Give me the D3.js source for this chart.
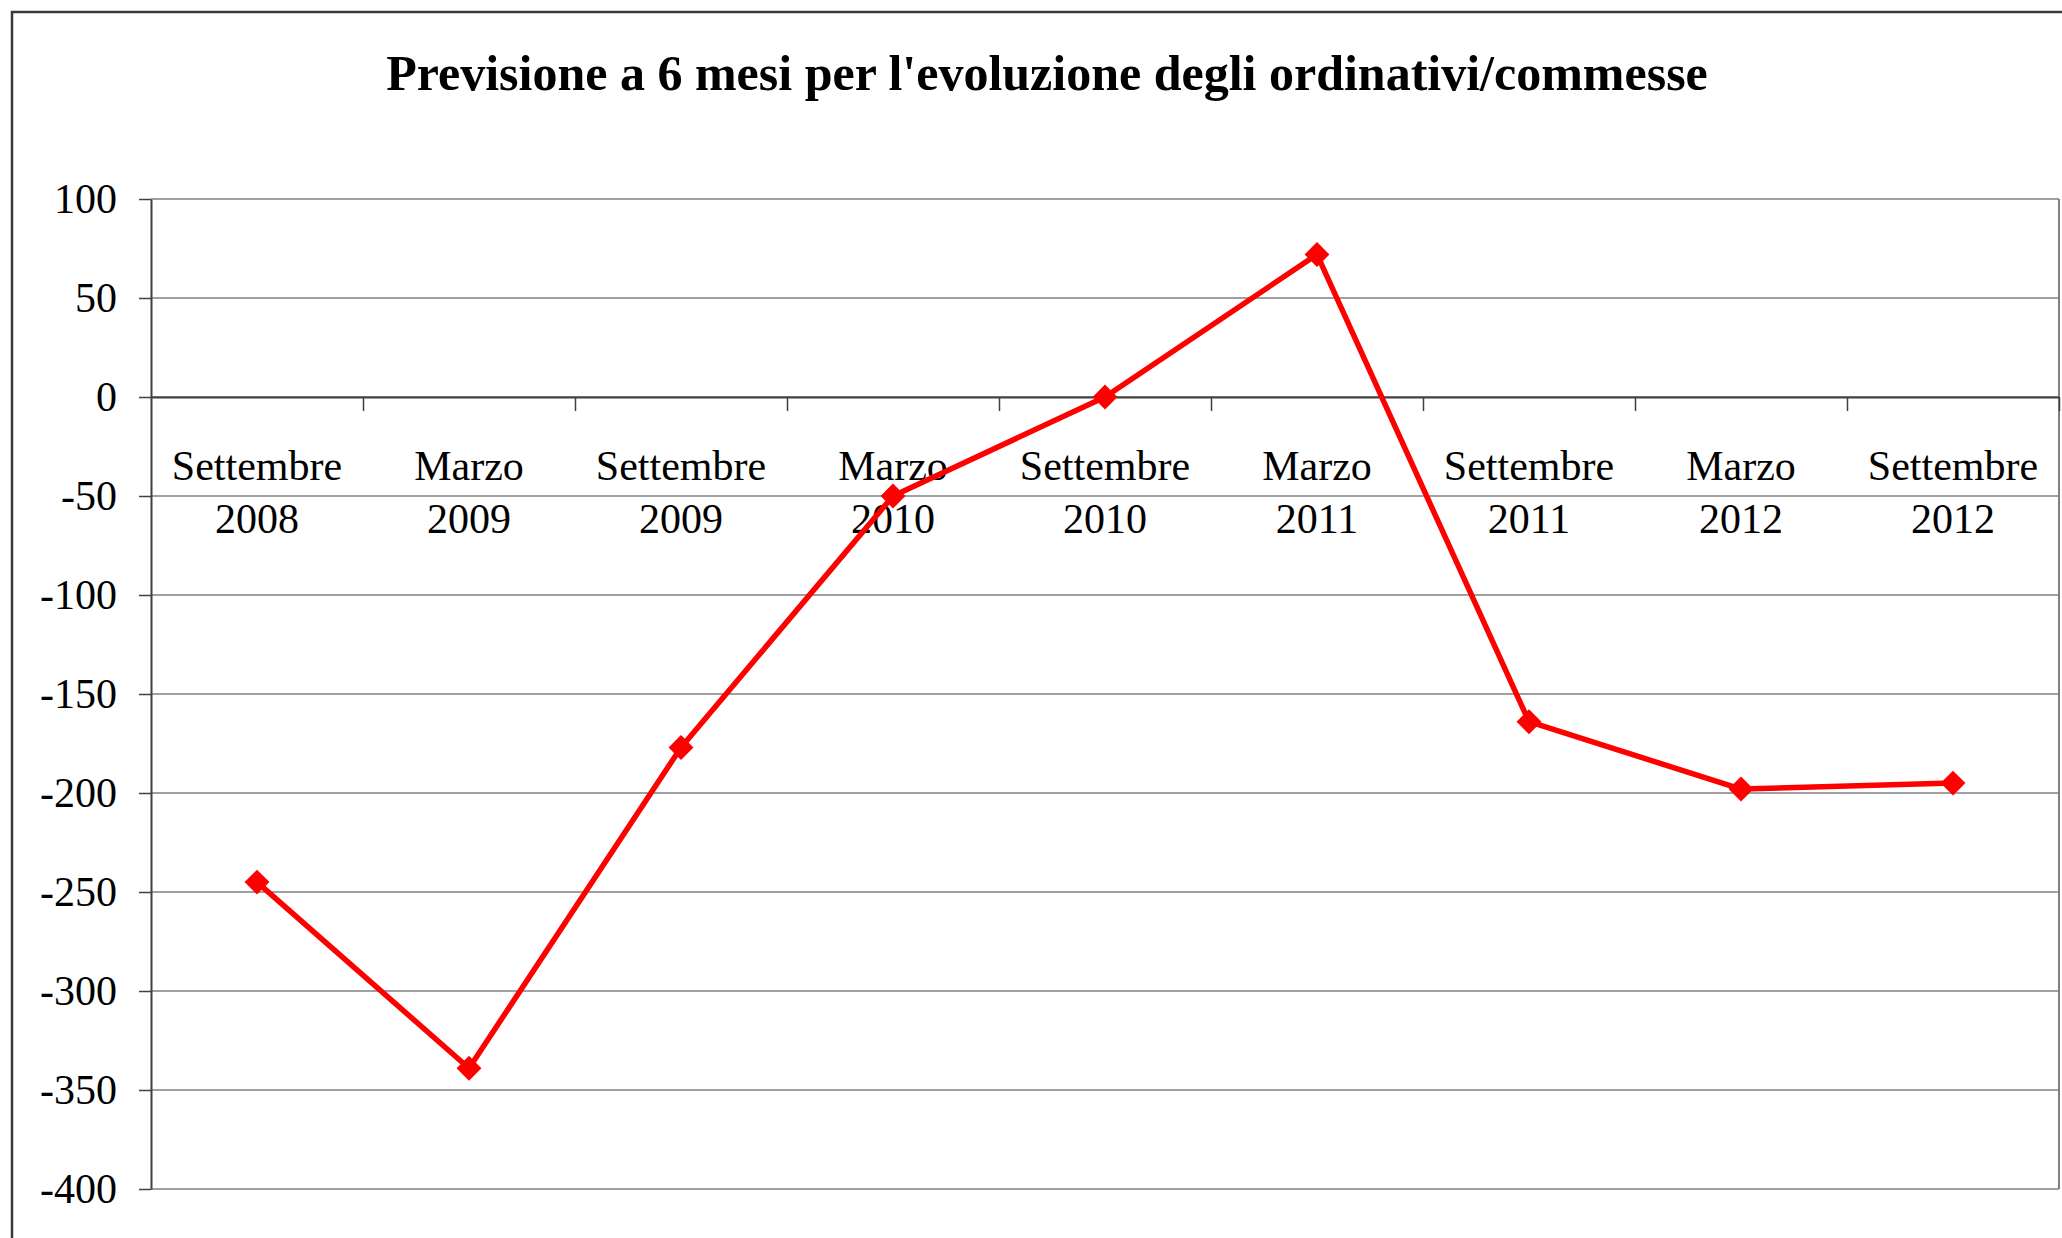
<!DOCTYPE html>
<html>
<head>
<meta charset="utf-8">
<script src="https://cdn.jsdelivr.net/npm/d3@7"></script>
<style>
  html, body { margin: 0; padding: 0; background: #fff; }
  svg { display: block; font-family: "Liberation Serif", "Times New Roman", serif; }
</style>
</head>
<body>
<div id="chart"></div>
<script>
const months = ['Settembre', 'Marzo', 'Settembre', 'Marzo', 'Settembre', 'Marzo', 'Settembre', 'Marzo', 'Settembre'];
const years = ['2008', '2009', '2009', '2010', '2010', '2011', '2011', '2012', '2012'];
const values = [-245, -339, -177, -50, 0, 72, -164, -198, -195];
const yTicks = [100, 50, 0, -50, -100, -150, -200, -250, -300, -350, -400];
const title = "Previsione a 6 mesi per l'evoluzione degli ordinativi/commesse";

const width = 2062, height = 1238;
const plot = { left: 151, right: 2059, top: 199, bottom: 1189 };

const svg = d3.select('#chart').append('svg')
  .attr('width', width)
  .attr('height', height);

// outer chart frame (runs off the right and bottom edge)
svg.append('rect')
  .attr('x', 12).attr('y', 12)
  .attr('width', width + 20).attr('height', height + 20)
  .attr('fill', '#fff')
  .attr('stroke', '#3a3a3a')
  .attr('stroke-width', 2.5);

svg.append('text')
  .attr('x', 1047).attr('y', 90)
  .attr('text-anchor', 'middle')
  .attr('font-size', 50)
  .attr('font-weight', 'bold')
  .text(title);

const keys = months.map((m, i) => i);
const x = d3.scaleBand().domain(keys).range([plot.left, plot.right]).padding(0);
const xi = d3.scaleLinear().domain([0, keys.length]).range([plot.left, plot.right]);
const y = d3.scaleLinear().domain([-400, 100]).range([plot.bottom, plot.top]);

// gridlines
svg.append('g')
  .selectAll('line')
  .data(yTicks)
  .join('line')
  .attr('x1', plot.left).attr('x2', plot.right)
  .attr('y1', d => y(d)).attr('y2', d => y(d))
  .attr('stroke', '#808080')
  .attr('stroke-width', 1.5);

// right border of plot area
svg.append('line')
  .attr('x1', plot.right).attr('x2', plot.right)
  .attr('y1', plot.top).attr('y2', plot.bottom)
  .attr('stroke', '#808080')
  .attr('stroke-width', 2);

// y axis (plain hyphen for negatives, like the original)
const yAxis = svg.append('g')
  .attr('transform', `translate(${plot.left},0)`)
  .call(d3.axisLeft(y).tickValues(yTicks).tickFormat(d => String(d))
    .tickSize(12).tickPadding(22).tickSizeOuter(0));
yAxis.select('.domain').attr('stroke', '#404040').attr('stroke-width', 2);
yAxis.selectAll('.tick line').attr('stroke', '#404040').attr('stroke-width', 1.5);
yAxis.selectAll('.tick text')
  .attr('font-size', 42)
  .attr('font-family', '"Liberation Serif", serif')
  .attr('fill', '#000');

// x axis along zero, ticks between categories
const xAxis = svg.append('g')
  .attr('transform', `translate(0,${y(0)})`)
  .call(d3.axisBottom(xi).tickValues(d3.range(1, keys.length + 1)).tickFormat('').tickSize(14).tickSizeOuter(0));
xAxis.select('.domain').attr('stroke', '#404040').attr('stroke-width', 2);
xAxis.selectAll('.tick line').attr('stroke', '#404040').attr('stroke-width', 1.5);

// category labels, two lines
const labels = svg.append('g')
  .attr('font-size', 42)
  .attr('text-anchor', 'middle')
  .attr('fill', '#000');
labels.selectAll('text.month')
  .data(keys)
  .join('text')
  .attr('class', 'month')
  .attr('x', d => x(d) + x.bandwidth() / 2)
  .attr('y', y(0) + 83)
  .text(d => months[d]);
labels.selectAll('text.year')
  .data(keys)
  .join('text')
  .attr('class', 'year')
  .attr('x', d => x(d) + x.bandwidth() / 2)
  .attr('y', y(0) + 136)
  .text(d => years[d]);

// series
const line = d3.line()
  .x(d => x(d) + x.bandwidth() / 2)
  .y(d => y(values[d]));

svg.append('path')
  .datum(keys)
  .attr('d', line)
  .attr('fill', 'none')
  .attr('stroke', '#ff0000')
  .attr('stroke-width', 5.5)
  .attr('stroke-linejoin', 'round');

const diamond = d3.symbol().type(d3.symbolSquare).size(310);
svg.append('g')
  .selectAll('path')
  .data(keys)
  .join('path')
  .attr('d', diamond)
  .attr('transform', d => `translate(${x(d) + x.bandwidth() / 2},${y(values[d])}) rotate(45)`)
  .attr('fill', '#ff0000');
</script>
</body>
</html>
